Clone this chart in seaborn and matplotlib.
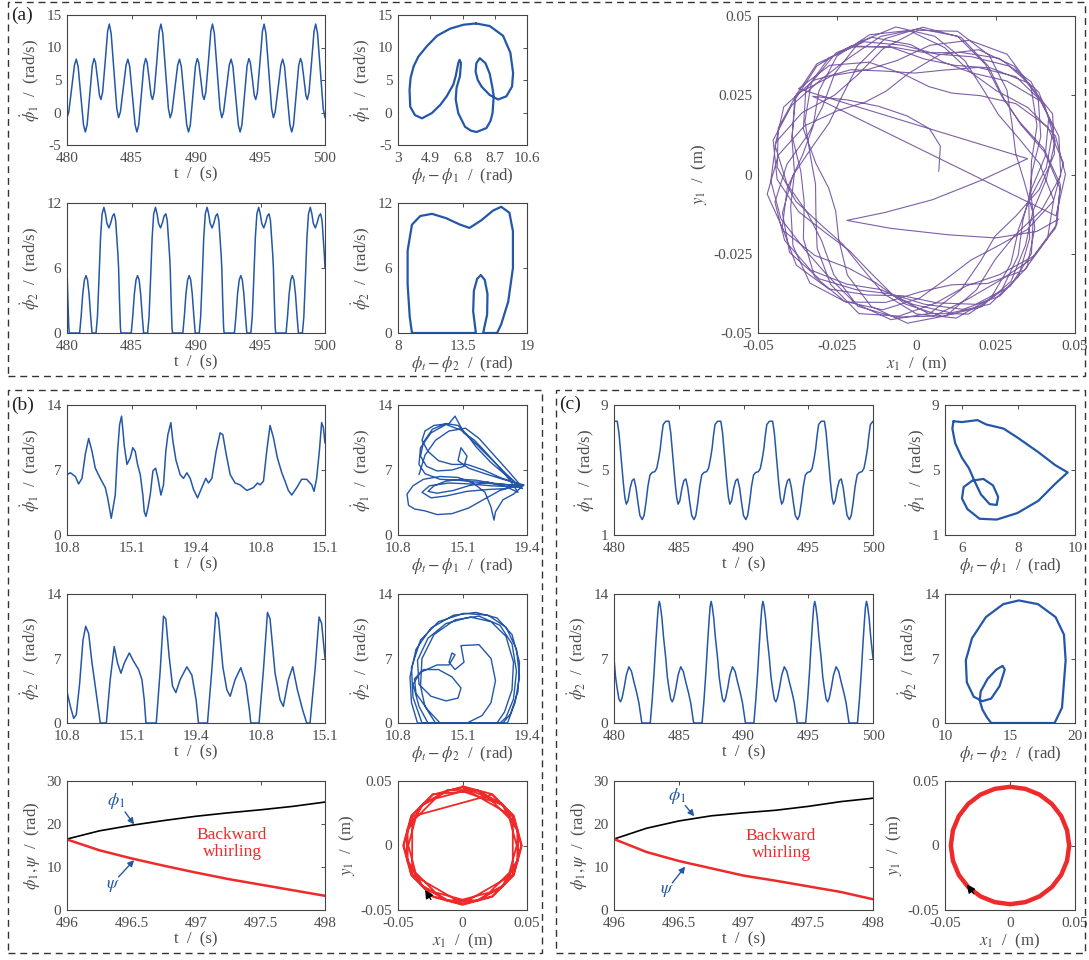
import numpy as np
import matplotlib
matplotlib.use("Agg")
import matplotlib.pyplot as plt
import seaborn as sns
from matplotlib.patches import Rectangle

sns.set_theme(style="white")
plt.rcParams["font.family"] = ["Liberation Serif", "DejaVu Serif"]
plt.rcParams["mathtext.fontset"] = "stix"

BLUE = "#2457a8"
PURPLE = "#7d5fa8"
RED = "#ee2a2a"
GREY = "#4d4d4d"

# ---------------- panel (a) data ----------------
a1_t = [480.00, 480.14, 480.36, 480.58, 480.72, 480.86, 481.07, 481.28, 481.42, 481.56, 481.76, 481.96,
        482.10, 482.21, 482.37, 482.52, 482.63, 482.76, 482.96, 483.15, 483.28, 483.42, 483.64, 483.86,
        484.00, 484.14, 484.36, 484.58, 484.72, 484.86, 485.07, 485.28, 485.42, 485.56, 485.76, 485.96,
        486.10, 486.21, 486.37, 486.52, 486.63, 486.76, 486.96, 487.15, 487.28, 487.42, 487.64, 487.86,
        488.00, 488.14, 488.36, 488.58, 488.72, 488.86, 489.07, 489.28, 489.42, 489.56, 489.76, 489.96,
        490.10, 490.21, 490.37, 490.52, 490.63, 490.76, 490.96, 491.15, 491.28, 491.42, 491.64, 491.86,
        492.00, 492.14, 492.36, 492.58, 492.72, 492.86, 493.07, 493.28, 493.42, 493.56, 493.76, 493.96,
        494.10, 494.21, 494.37, 494.52, 494.63, 494.76, 494.96, 495.15, 495.28, 495.42, 495.64, 495.86,
        496.00, 496.14, 496.36, 496.58, 496.72, 496.86, 497.07, 497.28, 497.42, 497.56, 497.76, 497.96,
        498.10, 498.21, 498.37, 498.52, 498.63, 498.76, 498.96, 499.15, 499.28, 499.42, 499.64, 499.86,
        500.00]
a1_v = [-0.8, 0.1, 3.7, 7.3, 8.2, 7.1, 2.6, -1.9, -3.0, -1.9, 2.65, 7.2,
        8.3, 7.7, 5.15, 2.6, 2.0, 3.1, 7.8, 12.5, 13.6, 12.2, 6.4, 0.6,
        -0.8, 0.1, 3.7, 7.3, 8.2, 7.1, 2.6, -1.9, -3.0, -1.9, 2.65, 7.2,
        8.3, 7.7, 5.15, 2.6, 2.0, 3.1, 7.8, 12.5, 13.6, 12.2, 6.4, 0.6,
        -0.8, 0.1, 3.7, 7.3, 8.2, 7.1, 2.6, -1.9, -3.0, -1.9, 2.65, 7.2,
        8.3, 7.7, 5.15, 2.6, 2.0, 3.1, 7.8, 12.5, 13.6, 12.2, 6.4, 0.6,
        -0.8, 0.1, 3.7, 7.3, 8.2, 7.1, 2.6, -1.9, -3.0, -1.9, 2.65, 7.2,
        8.3, 7.7, 5.15, 2.6, 2.0, 3.1, 7.8, 12.5, 13.6, 12.2, 6.4, 0.6,
        -0.8, 0.1, 3.7, 7.3, 8.2, 7.1, 2.6, -1.9, -3.0, -1.9, 2.65, 7.2,
        8.3, 7.7, 5.15, 2.6, 2.0, 3.1, 7.8, 12.5, 13.6, 12.2, 6.4, 0.6,
        -0.8]

a2_t = [480.00, 480.07, 480.14, 480.18, 480.98, 481.10, 481.22, 481.35, 481.47, 481.59, 481.71, 481.83, 481.94, 482.25,
        482.36, 482.48, 482.60, 482.72, 482.86, 482.98, 483.10, 483.25, 483.40, 483.53, 483.66, 483.77, 483.88, 483.95,
        484.00, 484.07, 484.14, 484.18, 484.98, 485.10, 485.22, 485.35, 485.47, 485.59, 485.71, 485.83, 485.94, 486.25,
        486.36, 486.48, 486.60, 486.72, 486.86, 486.98, 487.10, 487.25, 487.40, 487.53, 487.66, 487.77, 487.88, 487.95,
        488.00, 488.07, 488.14, 488.18, 488.98, 489.10, 489.22, 489.35, 489.47, 489.59, 489.71, 489.83, 489.94, 490.25,
        490.36, 490.48, 490.60, 490.72, 490.86, 490.98, 491.10, 491.25, 491.40, 491.53, 491.66, 491.77, 491.88, 491.95,
        492.00, 492.07, 492.14, 492.18, 492.98, 493.10, 493.22, 493.35, 493.47, 493.59, 493.71, 493.83, 493.94, 494.25,
        494.36, 494.48, 494.60, 494.72, 494.86, 494.98, 495.10, 495.25, 495.40, 495.53, 495.66, 495.77, 495.88, 495.95,
        496.00, 496.07, 496.14, 496.18, 496.98, 497.10, 497.22, 497.35, 497.47, 497.59, 497.71, 497.83, 497.94, 498.25,
        498.36, 498.48, 498.60, 498.72, 498.86, 498.98, 499.10, 499.25, 499.40, 499.53, 499.66, 499.77, 499.88, 499.95,
        500.00]
a2_v = [6.0, 3.0, 0.5, 0.0, 0.0, 1.6, 3.6, 4.9, 5.3, 4.9, 3.6, 1.6, 0.0, 0.0,
        1.5, 5.0, 8.8, 11.0, 11.6, 11.0, 10.1, 9.7, 10.2, 10.8, 11.0, 10.4, 8.5, 7.2,
        6.0, 3.0, 0.5, 0.0, 0.0, 1.6, 3.6, 4.9, 5.3, 4.9, 3.6, 1.6, 0.0, 0.0,
        1.5, 5.0, 8.8, 11.0, 11.6, 11.0, 10.1, 9.7, 10.2, 10.8, 11.0, 10.4, 8.5, 7.2,
        6.0, 3.0, 0.5, 0.0, 0.0, 1.6, 3.6, 4.9, 5.3, 4.9, 3.6, 1.6, 0.0, 0.0,
        1.5, 5.0, 8.8, 11.0, 11.6, 11.0, 10.1, 9.7, 10.2, 10.8, 11.0, 10.4, 8.5, 7.2,
        6.0, 3.0, 0.5, 0.0, 0.0, 1.6, 3.6, 4.9, 5.3, 4.9, 3.6, 1.6, 0.0, 0.0,
        1.5, 5.0, 8.8, 11.0, 11.6, 11.0, 10.1, 9.7, 10.2, 10.8, 11.0, 10.4, 8.5, 7.2,
        6.0, 3.0, 0.5, 0.0, 0.0, 1.6, 3.6, 4.9, 5.3, 4.9, 3.6, 1.6, 0.0, 0.0,
        1.5, 5.0, 8.8, 11.0, 11.6, 11.0, 10.1, 9.7, 10.2, 10.8, 11.0, 10.4, 8.5, 7.2,
        6.0]

a3_x = [7.59, 6.85, 6.07, 5.30, 4.70, 4.20, 3.92, 3.74, 3.68, 3.72, 4.00, 4.41, 4.99, 5.50, 5.87, 6.26,
        6.40, 6.55, 6.63, 6.71, 6.65, 6.45, 6.40, 6.55, 6.95, 7.30, 7.63, 8.21, 8.45, 8.57, 8.64, 8.55,
        8.40, 8.15, 7.82, 7.62, 7.57, 7.70, 7.92, 8.40, 8.90, 9.39, 9.72, 9.78, 9.62, 9.19, 8.41, 7.59]
a3_y = [13.7, 13.5, 12.9, 11.8, 10.2, 8.6, 7.1, 5.3, 3.5, 0.9, -0.4, -0.9, -0.1, 1.2, 2.5, 4.3,
        5.6, 7.6, 8.1, 7.6, 5.6, 3.8, 2.0, -0.1, -2.2, -2.8, -3.0, -2.4, -1.3, -0.1, 2.5, 4.0,
        6.0, 7.6, 8.35, 7.6, 6.3, 5.0, 4.0, 2.7, 2.0, 2.5, 4.0, 6.1, 9.2, 11.8, 13.3, 13.7]

a4_x = [9.19, 14.64, 14.41, 14.47, 14.75, 15.06, 15.40, 15.63, 15.60, 15.26, 16.45, 16.80, 17.40, 17.80, 17.80,
        17.50, 16.80, 16.10, 15.10, 14.10, 13.30, 12.10, 10.90, 9.90, 9.19, 8.82, 8.82, 9.00, 9.19]
a4_y = [0.0, 0.0, 2.0, 3.9, 5.0, 5.35, 4.9, 3.6, 1.7, 0.0, 0.0, 0.8, 2.9, 6.0, 9.4,
        11.1, 11.65, 11.3, 10.4, 9.7, 10.0, 10.6, 11.0, 10.8, 10.0, 7.6, 4.5, 1.5, 0.0]

# whirl orbit of panel (a), read in polar form: angle (deg) and radius (mm)
a5_theta_deg = [8, 50, 74, 99, 119, 133, 143, 343.5,
                360, 375.5, 391, 406.5, 422, 437.5, 453, 468.5, 484, 499.5, 515, 530.5,
                546, 561.5, 577, 592.5, 608, 623.5, 639, 654.5, 670, 685.5, 701, 716.5,
                732, 747.5, 763, 778.5, 794, 809.5, 825, 840.5, 856, 871.5, 887, 902.5,
                918, 933.5, 949, 964.5, 980, 995.5, 1011, 1026.5, 1042, 1057.5, 1073, 1088.5,
                1104, 1119.5, 1135, 1150.5, 1166, 1181.5, 1197, 1212.5, 1228, 1243.5, 1259, 1274.5,
                1290, 1305.5, 1321, 1336.5, 1352, 1367.5, 1383, 1398.5, 1414, 1429.5, 1445, 1460.5,
                1476, 1491.5, 1507, 1522.5, 1538, 1553.5, 1569, 1584.5, 1600, 1615.5, 1631, 1646.5,
                1662, 1677.5, 1693, 1708.5, 1724, 1739.5, 1755, 1770.5, 1786, 1801.5, 1817, 1832.5,
                1848, 1863.5, 1879, 1894.5, 1910, 1925.5, 1941, 1956.5, 1972, 1987.5, 2003, 2018.5,
                2034, 2049.5, 2065, 2080.5, 2096, 2111.5, 2127, 2142.5, 2158, 2173.5, 2189, 2204.5,
                2220, 2235.5, 2251, 2266.5, 2282, 2297.5, 2313, 2328.5, 2344, 2359.5, 2375, 2390.5,
                2406, 2421.5, 2437, 2452.5, 2468, 2483.5, 2499, 2514.5, 2530, 2545.5, 2561, 2576.5,
                2592, 2607.5, 2623, 2638.5, 2654, 2669.5, 2685, 2700.5, 2716, 2731.5, 2747, 2762.5,
                2778, 2793.5, 2809, 2824.5, 2840, 2855.5, 2871, 2886.5, 2902, 2917.5, 2933, 2948.5,
                2964, 2979.5, 2995, 3010.5, 3026, 3041.5, 3057, 3072.5, 3088, 3103.5, 3119, 3134.5,
                3150, 3165.5, 3181, 3196.5, 3212, 3227.5, 3243, 3258.5, 3274, 3289.5, 3305, 3320.5,
                3336, 3351.5, 3367, 3382.5, 3398, 3413.5, 3429, 3444.5, 3460, 3475.5, 3491, 3506.5,
                3522, 3537.5, 3553, 3568.5, 3584, 3599.5, 3615, 3630.5, 3646, 3661.5, 3677, 3692.5,
                3708, 3723.5, 3739, 3754.5, 3770, 3785.5, 3801, 3816.5, 3832, 3847.5, 3863, 3878.5,
                3894, 3909.5, 3925, 3940.5, 3956, 3971.5, 3987, 4002.5, 4018, 4033.5, 4049, 4064.5,
                4080, 4095.5, 4111, 4126.5, 4142, 4157.5, 4173, 4188.5, 4204, 4219.5, 4235, 4250.5,
                4266, 4281.5, 4297, 4312.5, 4328, 4343.5, 4359, 4374.5, 4390, 4405.5, 4421, 4436.5,
                4452, 4467.5, 4483, 4498.5, 4514, 4529.5, 4545, 4560.5, 4576, 4591.5, 4607, 4622.5,
                4638, 4653.5, 4669, 4684.5, 4700, 4715.5, 4731, 4746.5, 4762, 4777.5, 4793, 4808.5,
                4824,
                8.1, -5.7, -58, -129.8, -146.6, -115.2, -62.2, -38.7, -25.3, -17.3]
a5_r_mm = [7.1, 11.7, 15, 18.7, 24.6, 32.2, 41, 45.9,
           47, 45.5, 41, 36.5, 36.5, 41, 45.5,
           46.5, 45, 40.5, 36, 36.5, 41, 45.5,
           47.5, 45.5, 41, 38.5, 41, 45,
           46, 44, 39, 34, 32, 34, 39, 44,
           47, 45.5, 41, 36.5, 36, 41, 45.5,
           46, 45, 42.5, 42.5, 45,
           46.5, 44, 39, 34, 31.5, 34, 39, 44,
           47, 45.5, 41, 36.5, 36.5, 41, 45.5,
           46.5, 45, 41, 38.5, 41, 45,
           48, 46, 41.5, 37, 36.5, 41, 45.5,
           46, 44, 39, 34, 32, 34, 39, 44,
           47, 45.5, 41, 36.5, 36.5, 41, 45.5,
           46.5, 45, 41, 38, 41, 45,
           47, 45.5, 41, 36.5, 36.5, 41, 45.5,
           46, 44, 38.5, 32, 28, 28, 32, 38.5, 44,
           47.5, 45.5, 41, 36.5, 36.5, 41, 45.5,
           46.5, 45, 41, 38.5, 41, 45,
           46, 44, 39, 34, 32, 34, 39, 44,
           47, 45.5, 41, 36.5, 36.5, 41, 45.5,
           45.5, 45, 42.5, 42.5, 45,
           47, 45.5, 41, 36.5, 36.5, 41, 45.5,
           46.5, 44, 39, 34, 32, 34, 39, 44,
           47, 45, 41, 38.5, 41, 45,
           46.5, 45.5, 41, 36.5, 36.5, 41, 45.5,
           47.5, 45.5, 41, 36.5, 36.5, 41, 45.5,
           46, 44, 39, 34, 32, 34, 39, 44,
           47, 45.5, 41, 36.5, 36.5, 41, 45.5,
           46.5, 45, 41, 38.5, 41, 45,
           46, 44, 38.5, 32, 28, 28, 32, 38.5, 44,
           47, 45.5, 41, 36.5, 36.5, 41, 45.5,
           46.5, 45.5, 41, 36.5, 36.5, 41, 45.5,
           46, 44, 39, 34, 32, 34, 39, 44,
           47.5, 45, 41, 38.5, 41, 45,
           47, 45.5, 41, 36.5, 36.5, 41, 45.5,
           46, 45, 42.5, 42.5, 45,
           46.5, 44, 39, 34, 32, 34, 39, 44,
           47, 45.5, 41, 36.5, 36.5, 41, 45.5,
           46.5, 45, 41, 38.5, 41, 45,
           47, 45.5, 41, 36.5, 36.5, 41, 45.5,
           46, 44, 39, 34, 32, 34, 39, 44,
           46.5, 44, 38.5, 32, 28, 28, 32, 38.5, 44,
           46,
           35.4, 20.1, 9.4, 15.6, 26.3, 18.8, 21.5, 32.0, 42.0, 47.1]

# ---------------- panel (b) data ----------------
b_tick_labels = ["10.8", "15.1", "19.4", "10.8", "15.1"]
b1_t = [0, 0.26, 0.65, 0.9, 1.16, 1.42, 1.68, 1.94, 2.19, 2.58, 2.97, 3.15, 3.43, 3.74, 3.92, 4.08,
        4.23, 4.34, 4.44, 4.65, 4.9, 5.1, 5.29, 5.47, 5.68, 5.88, 5.99, 6.12, 6.27, 6.45, 6.66, 6.87,
        7.05, 7.28, 7.48, 7.66, 7.82, 8.05, 8.21, 8.44, 8.77, 9.03, 9.29, 9.55, 9.81, 10.12, 10.45, 10.76,
        10.97, 11.23, 11.56, 11.87, 12.08, 12.34, 12.65, 13.03, 13.42, 13.94, 14.45, 14.77, 14.97, 15.23,
        15.48, 15.74, 16.0, 16.31, 16.65, 16.9, 17.16, 17.42, 17.81, 18.19, 18.58, 18.97, 19.15, 19.35,
        19.56, 19.74, 19.87, 20.0]
b1_v = [6.5, 6.7, 6.3, 5.5, 6.1, 8.7, 10.4, 9.0, 7.2, 6.1, 5.1, 4.0, 1.8, 4.3, 9.0, 11.9,
        12.8, 11.2, 9.6, 7.6, 8.3, 9.4, 9.0, 7.6, 6.5, 4.3, 2.5, 2.0, 2.9, 4.3, 6.9, 7.2,
        6.1, 4.3, 5.4, 9.0, 10.8, 12.1, 10.1, 8.1, 6.5, 6.1, 6.7, 6.1, 4.9, 4.0, 5.1, 6.1,
        5.6, 6.1, 9.0, 11.0, 10.8, 8.7, 6.5, 5.6, 5.4, 4.8, 5.1, 5.6, 5.4, 5.8,
        9.0, 11.8, 10.5, 8.3, 6.7, 5.8, 4.8, 4.3, 5.1, 6.0, 6.0, 5.4, 4.7, 6.1,
        9.0, 12.1, 11.6, 9.9]

b2_t = [0, 0.26, 0.52, 0.72, 0.98, 1.24, 1.45, 1.68, 1.94, 2.19, 2.58, 3.05, 3.35, 3.66, 3.92, 4.18,
        4.44, 4.83, 5.16, 5.55, 5.81, 5.99, 6.12, 6.92, 7.23, 7.48, 7.66, 7.92, 8.18, 8.44, 8.77, 9.29,
        9.68, 10.01, 10.19, 10.89, 11.23, 11.54, 11.74, 12.08, 12.39, 12.65, 13.03, 13.47, 13.86, 14.14,
        14.25, 14.89, 15.23, 15.54, 15.74, 16.13, 16.52, 16.77, 17.16, 17.5, 17.86, 18.27, 18.58, 18.84,
        19.23, 19.54, 19.74, 20.0]
b2_v = [3.4, 1.8, 0.5, 0.9, 4.3, 9.0, 10.5, 9.7, 6.5, 4.0, 0.0, 0.0, 4.7, 8.3, 6.5, 5.4,
        6.5, 7.6, 6.7, 5.8, 4.7, 2.5, 0.0, 0.0, 5.8, 11.6, 11.3, 7.2, 4.0, 3.3, 4.7, 6.1,
        5.2, 2.5, 0.0, 0.0, 5.8, 12.0, 11.3, 6.1, 3.6, 2.9, 4.7, 6.0, 4.3, 1.4,
        0.0, 0.0, 5.8, 12.0, 11.3, 5.4, 2.5, 1.8, 4.7, 6.1, 3.6, 1.4, 0.0, 0.0,
        5.8, 11.5, 10.8, 7.0]

b4_x = [12.2, 12.6, 13.3, 14.2, 15.3, 16.2, 17.2, 18.2, 19.0, 18.2, 17.0, 16.0, 15.0, 14.0, 13.2, 12.8,
        13.4, 14.5, 15.5, 16.8, 18.0, 18.8, 18.3, 17.5, 16.6, 15.9, 15.2, 14.6, 14.2, 13.2, 12.6, 12.4,
        12.8, 13.5, 14.4, 15.4, 16.5, 17.6, 18.6, 19.2, 18.5, 17.8, 17.3, 17.2, 17.0, 16.6, 15.8, 14.8,
        13.6, 12.5, 11.8, 11.4, 11.5, 11.9, 12.6, 13.4, 14.4, 15.5, 16.6, 17.6, 18.7, 19.1, 18.1, 17.0,
        16.0, 15.4, 14.8, 14.0, 13.1, 12.5, 12.3, 12.7, 13.4, 14.4, 15.2, 15.4, 15.0, 14.8, 15.5, 16.6,
        17.8, 18.9, 18.0, 16.8, 15.4, 14.0, 13.0, 12.4, 12.9, 14.2, 15.6, 17.0, 18.4, 19.0,
        18.0, 17.0, 16.0, 15.0, 14.0, 13.0, 12.3, 12.2, 12.6, 13.6, 14.8, 16.0, 17.2, 18.4, 19.1]
b4_y = [6.5, 8.6, 10.2, 11.2, 11.5, 10.4, 8.6, 6.8, 5.3, 5.4, 5.6, 5.9, 6.0, 5.8, 5.3, 4.7,
        4.5, 4.8, 5.3, 5.7, 5.2, 4.6, 5.8, 7.4, 9.0, 10.2, 11.0, 12.8, 12.0, 11.8, 11.2, 10.2,
        9.0, 8.0, 7.6, 7.6, 7.0, 6.2, 5.6, 5.4, 4.4, 3.8, 2.5, 1.6, 3.0, 4.6, 5.6, 6.2,
        6.3, 6.0, 5.3, 4.4, 3.2, 2.8, 2.6, 2.2, 2.3, 2.9, 3.9, 4.8, 5.3, 5.0, 6.3, 7.8,
        9.5, 10.8, 11.8, 12.0, 11.4, 10.0, 8.5, 7.4, 6.9, 7.0, 7.4, 8.5, 9.4, 8.0, 7.2, 6.6,
        6.0, 5.5, 5.0, 4.9, 4.7, 4.2, 4.0, 4.6, 5.3, 5.6, 5.5, 5.3, 5.2, 5.1,
        6.6, 8.2, 9.8, 11.3, 11.9, 11.0, 9.4, 7.6, 6.6, 6.0, 5.9, 5.7, 5.5, 5.4, 5.3]

b5_x = [12.1, 11.7, 11.6, 12.0, 13.0, 14.5, 16.0, 17.4, 18.4, 18.9, 18.8, 18.3, 17.8,
        13.6, 12.8, 12.0, 11.9, 12.5, 13.5, 14.4, 15.0, 14.8, 14.0, 13.0, 12.2, 12.1, 12.8, 14.0, 15.6,
        17.0, 18.0, 18.5, 18.4, 17.9, 17.4,
        12.8, 12.2, 11.8, 12.3, 13.4, 14.2, 14.6, 14.4, 14.2, 14.6, 15.2, 15.0, 16.2, 17.0, 17.3, 17.0,
        16.4, 15.4,
        13.3, 12.6, 12.3, 12.4, 13.2, 14.6, 16.2, 17.6, 18.4, 18.7, 18.5, 18.0, 17.6,
        12.4, 11.8, 11.7, 12.3, 13.5, 15.2, 16.8, 18.0, 18.7, 18.9, 18.6, 18.1, 12.1]
b5_y = [0.0, 2.2, 5.0, 8.0, 10.3, 11.7, 12.0, 11.4, 9.6, 6.6, 3.4, 1.0, 0.0,
        0.0, 1.4, 3.2, 4.8, 5.8, 5.8, 5.0, 3.8, 2.7, 2.4, 2.9, 4.2, 6.8, 9.2, 10.8, 11.5,
        11.0, 9.4, 6.6, 3.6, 1.2, 0.0,
        0.0, 1.8, 4.2, 5.5, 6.3, 6.3, 7.4, 7.6, 6.6, 5.8, 6.6, 8.4, 8.5, 7.0, 4.6, 2.2,
        0.8, 0.0,
        0.0, 1.8, 4.0, 7.0, 9.6, 11.2, 11.6, 10.6, 8.6, 5.6, 2.6, 0.6, 0.0,
        0.0, 2.8, 6.0, 9.0, 11.0, 11.9, 11.7, 10.4, 8.0, 5.0, 2.2, 0.0, 0.0]

b3_t = [496.0, 496.25, 496.5, 496.75, 497.0, 497.25, 497.5, 497.75, 498.0]
b3_phi1 = [16.5, 18.4, 19.7, 20.8, 21.8, 22.6, 23.3, 24.1, 25.1]
b3_psi = [16.4, 13.9, 12.0, 10.3, 8.7, 7.2, 5.9, 4.6, 3.3]

b6_x_mm = [0, 23, 39.8, 46, 39.8, 23, 0, -23, -39.8, -46, -39.8, -23,
           11.4, 31.1, 42.5, 42.5, 31.1, 11.4, -11.4, -31.1, -42.5, -42.5, -31.1, -11.4,
           0, 39, 39, 0, -39, -39,
           22.8, 39.4, 45.5, 39.4, 22.8, 0, -22.8, -39.4, -45.5, -39.4, -22.8, 0,
           21, 36.4, 42, 36.4, 21, 0, -21, -36.4, -42, -36.4, -21, 0,
           31.5, 43, 43, 31.5, 11.5, -11.5, -31.5, -43, -43, -31.5, -11.5, 11.5, 31.5]
b6_y_mm = [46, 39.8, 23, 0, -23, -39.8, -46, -39.8, -23, 0, 23, 39.8,
           42.5, 31.1, 11.4, -11.4, -31.1, -42.5, -42.5, -31.1, -11.4, 11.4, 31.1, 42.5,
           45, 22.5, -22.5, -45, -22.5, 22.5,
           39.4, 22.8, 0, -22.8, -39.4, -45.5, -39.4, -22.8, 0, 22.8, 39.4, 45.5,
           36.4, 21, 0, -21, -36.4, -42, -36.4, -21, 0, 21, 36.4, 42,
           31.5, 11.5, -11.5, -31.5, -43, -43, -31.5, -11.5, 11.5, 31.5, 43, 43, 31.5]

# ---------------- panel (c) data ----------------
c1_t = [480.00, 480.25, 480.38, 480.50, 480.62, 480.72, 480.84, 480.95, 481.08, 481.25, 481.40, 481.55, 481.70, 481.85,
        482.00, 482.18, 482.32, 482.47, 482.62, 482.78, 482.95, 483.15, 483.30, 483.45, 483.57, 483.68, 483.80,
        484.00, 484.25, 484.38, 484.50, 484.62, 484.72, 484.84, 484.95, 485.08, 485.25, 485.40, 485.55, 485.70, 485.85,
        486.00, 486.18, 486.32, 486.47, 486.62, 486.78, 486.95, 487.15, 487.30, 487.45, 487.57, 487.68, 487.80,
        488.00, 488.25, 488.38, 488.50, 488.62, 488.72, 488.84, 488.95, 489.08, 489.25, 489.40, 489.55, 489.70, 489.85,
        490.00, 490.18, 490.32, 490.47, 490.62, 490.78, 490.95, 491.15, 491.30, 491.45, 491.57, 491.68, 491.80,
        492.00, 492.25, 492.38, 492.50, 492.62, 492.72, 492.84, 492.95, 493.08, 493.25, 493.40, 493.55, 493.70, 493.85,
        494.00, 494.18, 494.32, 494.47, 494.62, 494.78, 494.95, 495.15, 495.30, 495.45, 495.57, 495.68, 495.80,
        496.00, 496.25, 496.38, 496.50, 496.62, 496.72, 496.84, 496.95, 497.08, 497.25, 497.40, 497.55, 497.70, 497.85,
        498.00, 498.18, 498.32, 498.47, 498.62, 498.78, 498.95, 499.15, 499.30, 499.45, 499.57, 499.68, 499.80,
        500.00]
c1_v = [8.0, 8.0, 7.3, 6.2, 5.1, 4.2, 3.3, 2.9, 3.1, 3.9, 4.35, 4.45, 3.9, 3.0,
        2.2, 1.95, 2.2, 3.0, 4.0, 4.7, 4.85, 4.9, 5.1, 5.7, 6.3, 7.1, 7.8,
        8.0, 8.0, 7.3, 6.2, 5.1, 4.2, 3.3, 2.9, 3.1, 3.9, 4.35, 4.45, 3.9, 3.0,
        2.2, 1.95, 2.2, 3.0, 4.0, 4.7, 4.85, 4.9, 5.1, 5.7, 6.3, 7.1, 7.8,
        8.0, 8.0, 7.3, 6.2, 5.1, 4.2, 3.3, 2.9, 3.1, 3.9, 4.35, 4.45, 3.9, 3.0,
        2.2, 1.95, 2.2, 3.0, 4.0, 4.7, 4.85, 4.9, 5.1, 5.7, 6.3, 7.1, 7.8,
        8.0, 8.0, 7.3, 6.2, 5.1, 4.2, 3.3, 2.9, 3.1, 3.9, 4.35, 4.45, 3.9, 3.0,
        2.2, 1.95, 2.2, 3.0, 4.0, 4.7, 4.85, 4.9, 5.1, 5.7, 6.3, 7.1, 7.8,
        8.0, 8.0, 7.3, 6.2, 5.1, 4.2, 3.3, 2.9, 3.1, 3.9, 4.35, 4.45, 3.9, 3.0,
        2.2, 1.95, 2.2, 3.0, 4.0, 4.7, 4.85, 4.9, 5.1, 5.7, 6.3, 7.1, 7.8,
        8.0]

c2_t = [480.00, 480.12, 480.24, 480.38, 480.50, 480.62, 480.78, 480.95, 481.15, 481.35, 481.55, 481.75, 481.92,
        482.05, 482.15, 482.80, 482.95, 483.10, 483.22, 483.34, 483.42, 483.50, 483.58, 483.70, 483.82, 483.92,
        484.00, 484.12, 484.24, 484.38, 484.50, 484.62, 484.78, 484.95, 485.15, 485.35, 485.55, 485.75, 485.92,
        486.05, 486.15, 486.80, 486.95, 487.10, 487.22, 487.34, 487.42, 487.50, 487.58, 487.70, 487.82, 487.92,
        488.00, 488.12, 488.24, 488.38, 488.50, 488.62, 488.78, 488.95, 489.15, 489.35, 489.55, 489.75, 489.92,
        490.05, 490.15, 490.80, 490.95, 491.10, 491.22, 491.34, 491.42, 491.50, 491.58, 491.70, 491.82, 491.92,
        492.00, 492.12, 492.24, 492.38, 492.50, 492.62, 492.78, 492.95, 493.15, 493.35, 493.55, 493.75, 493.92,
        494.05, 494.15, 494.80, 494.95, 495.10, 495.22, 495.34, 495.42, 495.50, 495.58, 495.70, 495.82, 495.92,
        496.00, 496.12, 496.24, 496.38, 496.50, 496.62, 496.78, 496.95, 497.15, 497.35, 497.55, 497.75, 497.92,
        498.05, 498.15, 498.80, 498.95, 499.10, 499.22, 499.34, 499.42, 499.50, 499.58, 499.70, 499.82, 499.92,
        500.00]
c2_v = [7.0, 5.0, 3.8, 2.6, 2.3, 2.7, 3.8, 5.2, 6.1, 5.6, 4.4, 3.3, 2.2,
        1.0, 0.0, 0.0, 2.5, 5.6, 8.5, 11.1, 12.6, 13.2, 12.7, 11.4, 9.4, 8.0,
        7.0, 5.0, 3.8, 2.6, 2.3, 2.7, 3.8, 5.2, 6.1, 5.6, 4.4, 3.3, 2.2,
        1.0, 0.0, 0.0, 2.5, 5.6, 8.5, 11.1, 12.6, 13.2, 12.7, 11.4, 9.4, 8.0,
        7.0, 5.0, 3.8, 2.6, 2.3, 2.7, 3.8, 5.2, 6.1, 5.6, 4.4, 3.3, 2.2,
        1.0, 0.0, 0.0, 2.5, 5.6, 8.5, 11.1, 12.6, 13.2, 12.7, 11.4, 9.4, 8.0,
        7.0, 5.0, 3.8, 2.6, 2.3, 2.7, 3.8, 5.2, 6.1, 5.6, 4.4, 3.3, 2.2,
        1.0, 0.0, 0.0, 2.5, 5.6, 8.5, 11.1, 12.6, 13.2, 12.7, 11.4, 9.4, 8.0,
        7.0, 5.0, 3.8, 2.6, 2.3, 2.7, 3.8, 5.2, 6.1, 5.6, 4.4, 3.3, 2.2,
        1.0, 0.0, 0.0, 2.5, 5.6, 8.5, 11.1, 12.6, 13.2, 12.7, 11.4, 9.4, 8.0,
        7.0]

c4_x = [5.70, 5.66, 5.76, 6.00, 6.25, 6.45, 6.67, 6.98, 7.23, 7.28, 7.10, 6.76, 6.37, 6.06, 6.00,
        6.19, 6.62, 7.23, 7.96, 8.70, 9.30, 9.74, 9.30, 8.70, 7.96, 7.47, 6.86, 6.55, 6.00, 5.70]
c4_y = [8.00, 7.55, 6.65, 5.75, 5.10, 4.30, 3.50, 2.90, 2.85, 3.35, 4.05, 4.45, 4.35, 3.95, 3.25,
        2.60, 2.00, 1.95, 2.35, 3.10, 4.15, 4.85, 5.30, 6.10, 7.00, 7.55, 7.80, 8.07, 7.95, 8.00]

c5_x = [13.55, 18.43, 19.00, 19.28, 19.15, 18.50, 17.15, 15.68, 14.48, 13.15, 12.08, 11.60, 11.68,
        12.21, 12.88, 13.55, 14.20, 14.60, 14.43, 13.95, 13.28, 12.75, 12.67, 12.88, 13.20, 13.55]
c5_y = [0.0, 0.0, 1.66, 6.8, 9.6, 11.5, 12.9, 13.3, 12.9, 11.5, 9.2, 6.8, 4.4,
        2.85, 2.37, 2.65, 4.0, 5.8, 6.2, 5.8, 4.8, 3.44, 2.45, 1.46, 0.67, 0.0]

c3_t = [496.0, 496.25, 496.5, 496.75, 497.0, 497.25, 497.5, 497.75, 498.0]
c3_phi1 = [16.5, 19.0, 20.7, 21.9, 22.6, 23.2, 24.1, 25.2, 26.0]
c3_psi = [16.5, 13.5, 11.4, 9.7, 8.0, 6.8, 5.5, 4.2, 2.5]

c6_x_mm = [45.5, 43.9, 39.4, 32.2, 22.8, 11.8, 0, -11.8, -22.8, -32.2, -39.4, -43.9, -45.5,
           -43.9, -39.4, -32.2, -22.8, -11.8, 0, 11.8, 22.8, 32.2, 39.4, 43.9, 45.5]
c6_y_mm = [0, 11.8, 22.8, 32.2, 39.4, 43.9, 45.5, 43.9, 39.4, 32.2, 22.8, 11.8, 0,
           -11.8, -22.8, -32.2, -39.4, -43.9, -45.5, -43.9, -39.4, -32.2, -22.8, -11.8, 0]

# ---------------- figure ----------------
W, H = 1089, 960
fig = plt.figure(figsize=(W / 100, H / 100), dpi=100)
fig.patch.set_facecolor("white")


def add_ax(L, T, R, B):
    return fig.add_axes([L / W, 1 - B / H, (R - L) / W, (B - T) / H])


def style(ax, xlim, ylim, xticks, yticks, xlabel, ylabel, xtl=None):
    ax.set_xlim(xlim)
    ax.set_ylim(ylim)
    ax.set_xticks(xticks)
    ax.set_yticks(yticks)
    ax.set_xticklabels(xtl if xtl else ["{:g}".format(v) for v in xticks])
    ax.set_yticklabels(["{:g}".format(v) for v in yticks])
    ax.set_xlabel(xlabel, fontsize=12, color=GREY, labelpad=1)
    ax.set_ylabel(ylabel, fontsize=12, color=GREY, labelpad=3)
    ax.tick_params(direction="in", top=True, right=True, length=3, width=0.7,
                   colors=GREY, labelsize=11)
    ax.tick_params(axis="x", pad=5)
    ax.tick_params(axis="y", pad=4)
    for s in ax.spines.values():
        s.set_color("#444444")
        s.set_linewidth(0.8)


def draw(ax, x, y, color, lw=1.1):
    sns.lineplot(x=x, y=y, ax=ax, color=color, lw=lw, sort=False, estimator=None)


T_LAB = "t  /  (s)"
DPHI1 = r"$\dot{\phi}_1$  /  (rad/s)"
DPHI2 = r"$\dot{\phi}_2$  /  (rad/s)"
PX1 = r"$\phi_t - \phi_1$  /  (rad)"
PX2 = r"$\phi_t - \phi_2$  /  (rad)"
X1 = r"$x_1$  /  (m)"
Y1 = r"$y_1$  /  (m)"
PSI = r"$\phi_1, \psi$  /  (rad)"

# (a)
ax = add_ax(67, 15, 325, 145)
draw(ax, a1_t, a1_v, BLUE)
style(ax, (480, 500), (-5, 15), [480, 485, 490, 495, 500], [-5, 0, 5, 10, 15], T_LAB, DPHI1)

ax = add_ax(67, 203, 325, 333)
draw(ax, a2_t, a2_v, BLUE)
style(ax, (480, 500), (0, 12), [480, 485, 490, 495, 500], [0, 6, 12], T_LAB, DPHI2)

ax = add_ax(398, 15, 527, 145)
draw(ax, a3_x, a3_y, BLUE, 1.6)
style(ax, (3, 10.6), (-5, 15), [3, 4.9, 6.8, 8.7, 10.6], [-5, 0, 5, 10, 15], PX1, DPHI1)

ax = add_ax(398, 203, 527, 333)
draw(ax, a4_x, a4_y, BLUE, 1.6)
style(ax, (8, 19), (0, 12), [8, 13.5, 19], [0, 6, 12], PX2, DPHI2)

ax = add_ax(758, 16, 1075, 333)
th = np.deg2rad(a5_theta_deg)
r = np.array(a5_r_mm) / 1000
draw(ax, r * np.cos(th), r * np.sin(th), PURPLE, 0.8)
tk = [-0.05, -0.025, 0, 0.025, 0.05]
style(ax, (-0.05, 0.05), (-0.05, 0.05), tk, tk, X1, Y1)

# (b)
ax = add_ax(67, 405, 325, 535)
draw(ax, b1_t, b1_v, BLUE)
style(ax, (0, 20), (0, 14), [0, 5, 10, 15, 20], [0, 7, 14], T_LAB, DPHI1, b_tick_labels)

ax = add_ax(67, 594, 325, 723)
draw(ax, b2_t, b2_v, BLUE)
style(ax, (0, 20), (0, 14), [0, 5, 10, 15, 20], [0, 7, 14], T_LAB, DPHI2, b_tick_labels)

ax = add_ax(398, 405, 527, 535)
draw(ax, b4_x, b4_y, BLUE, 1.0)
style(ax, (10.8, 19.4), (0, 14), [10.8, 15.1, 19.4], [0, 7, 14], PX1, DPHI1)

ax = add_ax(398, 594, 527, 723)
draw(ax, b5_x, b5_y, BLUE, 1.0)
style(ax, (10.8, 19.4), (0, 14), [10.8, 15.1, 19.4], [0, 7, 14], PX2, DPHI2)


def whirl_panel(ax, t, phi1, psi, txt_phi, arr_phi, txt_psi, arr_psi, txt_bw):
    draw(ax, t, phi1, "black", 1.2)
    draw(ax, t, psi, RED, 1.8)
    style(ax, (496, 498), (0, 30), [496, 496.5, 497, 497.5, 498], [0, 10, 20, 30], T_LAB, PSI)
    ap = dict(arrowstyle="-|>", color=BLUE, lw=1.0, mutation_scale=9, shrinkA=0, shrinkB=0)
    ax.text(*txt_phi, r"$\phi_1$", color=BLUE, fontsize=13, ha="center", va="center")
    ax.annotate("", xy=arr_phi[1], xytext=arr_phi[0], arrowprops=ap)
    ax.text(*txt_psi, r"$\psi$", color=BLUE, fontsize=13, ha="center", va="center")
    ax.annotate("", xy=arr_psi[1], xytext=arr_psi[0], arrowprops=ap)
    ax.text(*txt_bw, "Backward\nwhirling", color=RED, fontsize=12.5, ha="center", va="center",
            linespacing=1.1)


ax = add_ax(67, 781, 325, 910)
whirl_panel(ax, b3_t, b3_phi1, b3_psi, (496.38, 25.4), ((496.45, 22.8), (496.52, 19.9)),
            (496.36, 5.8), ((496.4, 7.7), (496.52, 11.6)), (497.28, 15.5))


def orbit_panel(ax, x_mm, y_mm, lw, tip, tail):
    draw(ax, np.array(x_mm) / 1000, np.array(y_mm) / 1000, RED, lw)
    style(ax, (-0.05, 0.05), (-0.05, 0.05), [-0.05, 0, 0.05], [-0.05, 0, 0.05], X1, Y1)
    ax.annotate("", xy=tip, xytext=tail,
                arrowprops=dict(arrowstyle="-|>", color="black", lw=1.0, mutation_scale=12,
                                shrinkA=0, shrinkB=0))


ax = add_ax(398, 781, 527, 910)
orbit_panel(ax, b6_x_mm, b6_y_mm, 1.3, (-0.029, -0.0345), (-0.0245, -0.0418))

# (c)
ax = add_ax(614, 405, 873, 535)
draw(ax, c1_t, c1_v, BLUE)
style(ax, (480, 500), (1, 9), [480, 485, 490, 495, 500], [1, 5, 9], T_LAB, DPHI1)

ax = add_ax(614, 594, 873, 723)
draw(ax, c2_t, c2_v, BLUE)
style(ax, (480, 500), (0, 14), [480, 485, 490, 495, 500], [0, 7, 14], T_LAB, DPHI2)

ax = add_ax(945, 405, 1075, 535)
draw(ax, c4_x, c4_y, BLUE, 1.6)
style(ax, (5.4, 10), (1, 9), [6, 8, 10], [1, 5, 9], PX1, DPHI1)

ax = add_ax(945, 594, 1075, 723)
draw(ax, c5_x, c5_y, BLUE, 1.6)
style(ax, (10, 20), (0, 14), [10, 15, 20], [0, 7, 14], PX2, DPHI2)

ax = add_ax(614, 781, 873, 910)
whirl_panel(ax, c3_t, c3_phi1, c3_psi, (496.49, 26.4), ((496.55, 24.3), (496.62, 21.8)),
            (496.41, 4.6), ((496.45, 6.3), (496.55, 10.1)), (497.29, 15.2))

ax = add_ax(945, 781, 1075, 910)
orbit_panel(ax, c6_x_mm, c6_y_mm, 3.2, (-0.0332, -0.0303), (-0.0279, -0.0373))

# dashed frames and panel letters
for (x0, y0, x1, y1) in [(8, 2, 1085, 376), (8, 390, 542, 953), (556, 390, 1085, 953)]:
    fig.add_artist(Rectangle((x0 / W, 1 - y1 / H), (x1 - x0) / W, (y1 - y0) / H,
                             transform=fig.transFigure, fill=False, ec="#333333", lw=1.0,
                             ls=(0, (5, 3.5))))
for lab, (x, y) in {"(a)": (11, 15), "(b)": (11, 405), "(c)": (559, 404)}.items():
    fig.text(x / W, 1 - y / H, lab, fontsize=14, color="#222222", ha="left", va="center")

fig.savefig("out.png", dpi=100)
